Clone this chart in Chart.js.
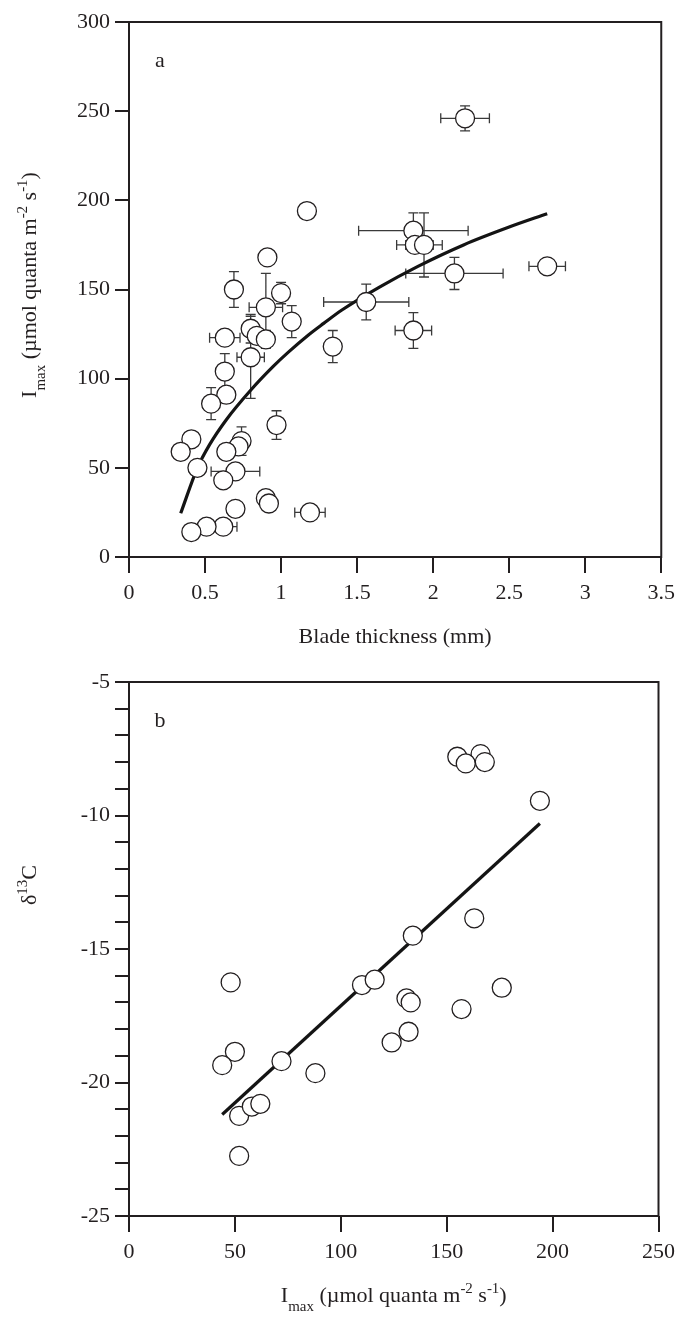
<!DOCTYPE html>
<html>
<head>
<meta charset="utf-8">
<script src="https://cdn.jsdelivr.net/npm/chart.js@4.4.1/dist/chart.umd.min.js"></script>
<style>
  html, body { margin: 0; padding: 0; background: #fff; }
  #wrap { position: relative; width: 682px; height: 1317px; }
  canvas { position: absolute; left: 0; }
</style>
</head>
<body>
<div id="wrap">
  <canvas id="chartA" width="682" height="660" style="top:0"></canvas>
  <canvas id="chartB" width="682" height="657" style="top:660px"></canvas>
</div>
<script>
// panel a: blade thickness vs Imax (means with sd bars)
const thicknessMm = [0.69, 1.00, 0.90, 1.07, 0.80, 0.84, 0.90, 0.63, 0.80, 0.63,
                     0.64, 0.54, 0.97, 0.41, 0.34, 0.74, 0.72, 0.64, 0.45, 0.70,
                     0.62, 0.90, 0.92, 1.19, 0.70, 0.62, 0.51, 0.41, 1.56, 1.34,
                     1.17, 0.91, 2.21, 1.87, 1.88, 1.94, 2.14, 2.75, 1.87];
const imaxA = [150, 148, 140, 132, 128, 124, 122, 123, 112, 104,
               91, 86, 74, 66, 59, 65, 62, 59, 50, 48,
               43, 33, 30, 25, 27, 17, 17, 14, 143, 118,
               194, 168, 246, 183, 175, 175, 159, 163, 127];
const thicknessSd = [0.03, 0.03, 0.11, 0, 0, 0.04, 0.03, 0.1, 0.09, 0,
                     0, 0, 0, 0, 0, 0, 0, 0.03, 0, 0.16,
                     0, 0.04, 0.03, 0.1, 0, 0.09, 0, 0, 0.28, 0,
                     0, 0, 0.16, 0.36, 0.12, 0.12, 0.32, 0.12, 0.12];
const imaxSd = [10, 6, 19, 9, 8, 0, 5, 0, 23, 10,
                0, 9, 8, 0, 0, 8, 0, 0, 0, 0,
                0, 0, 0, 0, 0, 0, 0, 0, 10, 9,
                0, 0, 7, 10, 0, 18, 9, 0, 10];
// fitted curve
const fitThickness = [0.34, 0.45, 0.53, 0.64, 0.80, 0.95, 1.05, 1.18, 1.28, 1.40, 1.65, 1.90, 2.20, 2.50, 2.75];
const fitImax = [24.5, 50, 63, 77, 93.5, 107, 115, 124.5, 131, 138.5, 151.5, 163, 175, 185, 192.5];
const xTicksA = [0, 0.5, 1, 1.5, 2, 2.5, 3, 3.5];
const yTicksA = [0, 50, 100, 150, 200, 250, 300];

// panel b: Imax vs delta13C
const imaxB = [155, 166, 159, 168, 194, 163, 48, 50, 44, 72,
               88, 52, 58, 62, 52, 110, 116, 134, 131, 133,
               157, 176, 132, 124];
const delta13C = [-7.8, -7.7, -8.05, -8.0, -9.45, -13.85, -16.25, -18.85, -19.35, -19.2,
                  -19.65, -21.25, -20.9, -20.8, -22.75, -16.35, -16.15, -14.5, -16.85, -17.0,
                  -17.25, -16.45, -18.1, -18.5];
const lineImax = [44, 194];
const lineDelta = [-21.2, -10.3];
const xTicksB = [0, 50, 100, 150, 200, 250];
const yLabelsB = [-25, -20, -15, -10, -5];

const ink = '#231f20';
const serif = '"Liberation Serif", "Times New Roman", serif';
const tickFont = { family: serif, size: 22 };

function drawRich(ctx, segs, cx, cy, rot, size) {
  const font = s => s + 'px ' + serif;
  let total = 0;
  const parts = segs.map(([t, k]) => {
    const s = k ? size * 0.68 : size;
    ctx.font = font(s);
    const w = ctx.measureText(t).width;
    total += w;
    return { t, k, s, w };
  });
  ctx.save();
  ctx.translate(cx, cy);
  ctx.rotate(rot);
  ctx.fillStyle = ink;
  ctx.textBaseline = 'alphabetic';
  ctx.textAlign = 'left';
  let x = -total / 2;
  parts.forEach(p => {
    ctx.font = font(p.s);
    const dy = p.k < 0 ? size * 0.42 : p.k > 0 ? -size * 0.4 : 0;
    ctx.fillText(p.t, x, size * 0.35 + dy);
    x += p.w;
  });
  ctx.restore();
}

const frame = {
  id: 'frame',
  afterDraw(chart, args, opts) {
    const { ctx, chartArea: a } = chart;
    ctx.save();
    ctx.strokeStyle = ink;
    ctx.lineWidth = 2;
    ctx.strokeRect(a.left, a.top, a.right - a.left, a.bottom - a.top);
    ctx.font = '22px ' + serif;
    ctx.fillStyle = ink;
    ctx.textAlign = 'center';
    ctx.textBaseline = 'middle';
    ctx.fillText(opts.label, a.left + 31, a.top + 39);
    (opts.titles || []).forEach(t => {
      const cx = t.x === 'center' ? (a.left + a.right) / 2 : t.x;
      drawRich(ctx, t.segs, cx, t.y, t.rot, 22);
    });
    ctx.restore();
  }
};

const errorBars = {
  id: 'errorBars',
  beforeDatasetsDraw(chart, args, opts) {
    if (!opts.xs) return;
    const { ctx, scales: { x, y } } = chart;
    const cap = 5;
    ctx.save();
    ctx.strokeStyle = '#3a3a3a';
    ctx.lineWidth = 1.3;
    ctx.beginPath();
    opts.xs.forEach((xv, i) => {
      const px = x.getPixelForValue(xv), py = y.getPixelForValue(opts.ys[i]);
      if (opts.xErr[i]) {
        const l = x.getPixelForValue(xv - opts.xErr[i]), r = x.getPixelForValue(xv + opts.xErr[i]);
        ctx.moveTo(l, py); ctx.lineTo(r, py);
        ctx.moveTo(l, py - cap); ctx.lineTo(l, py + cap);
        ctx.moveTo(r, py - cap); ctx.lineTo(r, py + cap);
      }
      if (opts.yErr[i]) {
        const t = y.getPixelForValue(opts.ys[i] + opts.yErr[i]), b = y.getPixelForValue(opts.ys[i] - opts.yErr[i]);
        ctx.moveTo(px, t); ctx.lineTo(px, b);
        ctx.moveTo(px - cap, t); ctx.lineTo(px + cap, t);
        ctx.moveTo(px - cap, b); ctx.lineTo(px + cap, b);
      }
    });
    ctx.stroke();
    ctx.restore();
  }
};

function axisGrid(len) {
  return { drawOnChartArea: false, drawTicks: true, tickLength: len, color: ink, lineWidth: 2 };
}

const pointStyle = {
  showLine: false,
  pointRadius: 9.5,
  pointBackgroundColor: '#fff',
  pointBorderColor: ink,
  pointBorderWidth: 1.3,
  order: 0
};

const imaxTitle = [['I', 0], ['max', -1], [' (\u00b5mol quanta m', 0], ['-2', 1], [' s', 0], ['-1', 1], [')', 0]];

new Chart(document.getElementById('chartA'), {
  type: 'scatter',
  data: {
    datasets: [
      Object.assign({ data: thicknessMm.map((v, i) => ({ x: v, y: imaxA[i] })) }, pointStyle),
      {
        data: fitThickness.map((v, i) => ({ x: v, y: fitImax[i] })),
        showLine: true,
        cubicInterpolationMode: 'monotone',
        borderColor: '#141414',
        borderWidth: 3.2,
        pointRadius: 0,
        order: 1
      }
    ]
  },
  options: {
    responsive: false,
    animation: false,
    devicePixelRatio: 1,
    layout: { padding: { top: 22, right: 19, left: 0, bottom: 0 } },
    scales: {
      x: {
        type: 'linear', min: 0, max: 3.5,
        afterBuildTicks: s => { s.ticks = xTicksA.map(v => ({ value: v })); },
        afterFit: s => { s.height = 103; },
        border: { display: false },
        grid: axisGrid(16),
        ticks: { color: ink, font: tickFont, padding: 7, maxRotation: 0, autoSkip: false, callback: v => String(v) },
        title: { display: true, text: 'Blade thickness (mm)', color: ink, font: { family: serif, size: 22 }, padding: { top: 0, bottom: 10 } }
      },
      y: {
        type: 'linear', min: 0, max: 300,
        afterBuildTicks: s => { s.ticks = yTicksA.map(v => ({ value: v })); },
        afterFit: s => { s.width = 129; },
        border: { display: false },
        grid: axisGrid(14),
        ticks: { color: ink, font: tickFont, padding: 5, autoSkip: false, callback: v => String(v) }
      }
    },
    plugins: {
      legend: { display: false },
      tooltip: { enabled: false },
      errorBars: { xs: thicknessMm, ys: imaxA, xErr: thicknessSd, yErr: imaxSd },
      frame: { label: 'a', titles: [{ segs: imaxTitle, x: 28, y: 285, rot: -Math.PI / 2 }] }
    }
  },
  plugins: [errorBars, frame]
});

new Chart(document.getElementById('chartB'), {
  type: 'scatter',
  data: {
    datasets: [
      Object.assign({ data: imaxB.map((v, i) => ({ x: v, y: delta13C[i] })) }, pointStyle),
      {
        data: lineImax.map((v, i) => ({ x: v, y: lineDelta[i] })),
        showLine: true,
        borderColor: '#141414',
        borderWidth: 3.2,
        pointRadius: 0,
        order: 1
      }
    ]
  },
  options: {
    responsive: false,
    animation: false,
    devicePixelRatio: 1,
    layout: { padding: { top: 22, right: 19, left: 0, bottom: 0 } },
    scales: {
      x: {
        type: 'linear', min: 0, max: 250,
        afterBuildTicks: s => { s.ticks = xTicksB.map(v => ({ value: v })); },
        afterFit: s => { s.height = 101; },
        border: { display: false },
        grid: axisGrid(16),
        ticks: { color: ink, font: tickFont, padding: 7, maxRotation: 0, autoSkip: false, callback: v => String(v) }
      },
      y: {
        type: 'linear', min: -25, max: -5,
        ticks: {
          stepSize: 1, maxTicksLimit: 30, autoSkip: false, color: ink, font: tickFont, padding: 5,
          callback: v => yLabelsB.includes(v) ? String(v) : ''
        },
        afterFit: s => { s.width = 129; },
        border: { display: false },
        grid: axisGrid(14)
      }
    },
    plugins: {
      legend: { display: false },
      tooltip: { enabled: false },
      frame: {
        label: 'b',
        titles: [
          { segs: [['\u03b4', 0], ['13', 1], ['C', 0]], x: 28, y: 225, rot: -Math.PI / 2 },
          { segs: imaxTitle, x: 'center', y: 634, rot: 0 }
        ]
      }
    }
  },
  plugins: [frame]
});
</script>
</body>
</html>
